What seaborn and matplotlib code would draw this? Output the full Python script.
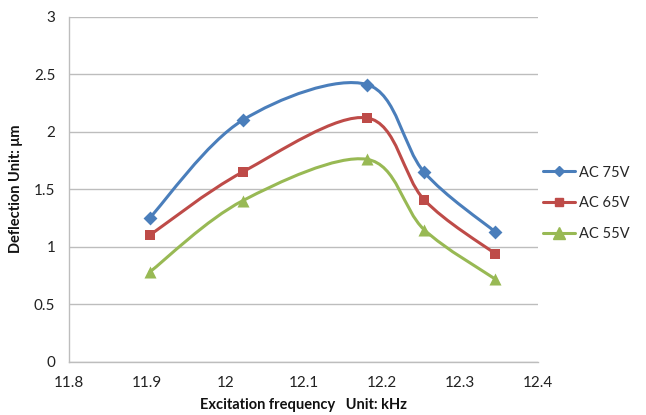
import numpy as np
import pandas as pd
import seaborn as sns
import matplotlib
matplotlib.use("Agg")
import matplotlib.pyplot as plt
from matplotlib.path import Path
from matplotlib.patches import PathPatch
from matplotlib.lines import Line2D

freq = [11.903, 12.022, 12.181, 12.254, 12.345]
ac75 = [1.25, 2.10, 2.41, 1.65, 1.13]
ac65 = [1.10, 1.65, 2.12, 1.41, 0.94]
ac55 = [0.78, 1.40, 1.76, 1.15, 0.72]
series_names = ["AC 75V", "AC 65V", "AC 55V"]
x_ticks = [11.8, 11.9, 12.0, 12.1, 12.2, 12.3, 12.4]
x_tick_labels = ["11.8", "11.9", "12", "12.1", "12.2", "12.3", "12.4"]
y_ticks = [0, 0.5, 1, 1.5, 2, 2.5, 3]
y_tick_labels = ["0", "0.5", "1", "1.5", "2", "2.5", "3"]

colors = ["#4A7EBB", "#BE4B48", "#98B954"]
markers = ["D", "s", "^"]
msizes = [50, 42, 75]

sns.set_theme(style="white")
plt.rcParams["font.family"] = ["Lato", "DejaVu Sans"]

df = pd.DataFrame({
    "freq": freq * 3,
    "val": ac75 + ac65 + ac55,
    "series": sum([[n] * len(freq) for n in series_names], []),
})

fig = plt.figure(figsize=(6.46, 4.15), dpi=100)
ax = fig.add_axes([0.107, 0.128, 0.726, 0.832])

def smooth_path(xs, ys):
    pts = np.column_stack([xs, ys])
    n = len(pts)
    verts = [pts[0]]
    codes = [Path.MOVETO]
    for i in range(n - 1):
        p0 = pts[i - 1] if i > 0 else pts[i]
        p1 = pts[i]
        p2 = pts[i + 1]
        p3 = pts[i + 2] if i + 2 < n else pts[i + 1]
        c1 = p1 + (p2 - p0) / 6.0
        c2 = p2 - (p3 - p1) / 6.0
        verts += [c1, c2, p2]
        codes += [Path.CURVE4] * 3
    return Path(verts, codes)

for name, c in zip(series_names, colors):
    sub = df[df.series == name]
    patch = PathPatch(smooth_path(sub.freq.values, sub.val.values),
                      facecolor="none", edgecolor=c, lw=2.2, zorder=2,
                      capstyle="round", joinstyle="round")
    ax.add_patch(patch)

for name, c, m, s in zip(series_names, colors, markers, msizes):
    sub = df[df.series == name]
    sns.scatterplot(data=sub, x="freq", y="val", color=c, marker=m, s=s,
                    edgecolor=c, linewidth=0, ax=ax, zorder=3, legend=False)

ax.set_xlim(11.8, 12.4)
ax.set_ylim(0, 3)
ax.set_xticks(x_ticks)
ax.set_xticklabels(x_tick_labels)
ax.set_yticks(y_ticks)
ax.set_yticklabels(y_tick_labels)
ax.tick_params(axis="both", labelsize=11, colors="#222222", length=0)
ax.tick_params(axis="x", pad=10)
ax.tick_params(axis="y", pad=10)
ax.yaxis.grid(True, color="#BDBDBD", lw=1.0)
ax.xaxis.grid(False)
for sp in ["top", "right"]:
    ax.spines[sp].set_visible(False)
for sp in ["left", "bottom"]:
    ax.spines[sp].set_color("#BDBDBD")
    ax.spines[sp].set_linewidth(1.0)
ax.set_xlabel("Excitation frequency   Unit: kHz", fontsize=10.5,
              fontweight="bold", labelpad=6, color="#111111")
ax.set_ylabel("Deflection Unit: \u03bcm", fontsize=10.5,
              fontweight="bold", labelpad=8, color="#111111")

handles = [Line2D([0], [0], color=c, lw=2.2, marker=m, markersize=ms)
           for c, m, ms in zip(colors, markers, [5.5, 6, 8])]
fig.legend(handles, series_names, loc="center left",
           bbox_to_anchor=(0.84, 0.51), frameon=False, fontsize=10.5,
           handlelength=2.2, labelspacing=1.15, handletextpad=0.3,
           borderaxespad=0, borderpad=0)

fig.savefig("out.png", dpi=100)
